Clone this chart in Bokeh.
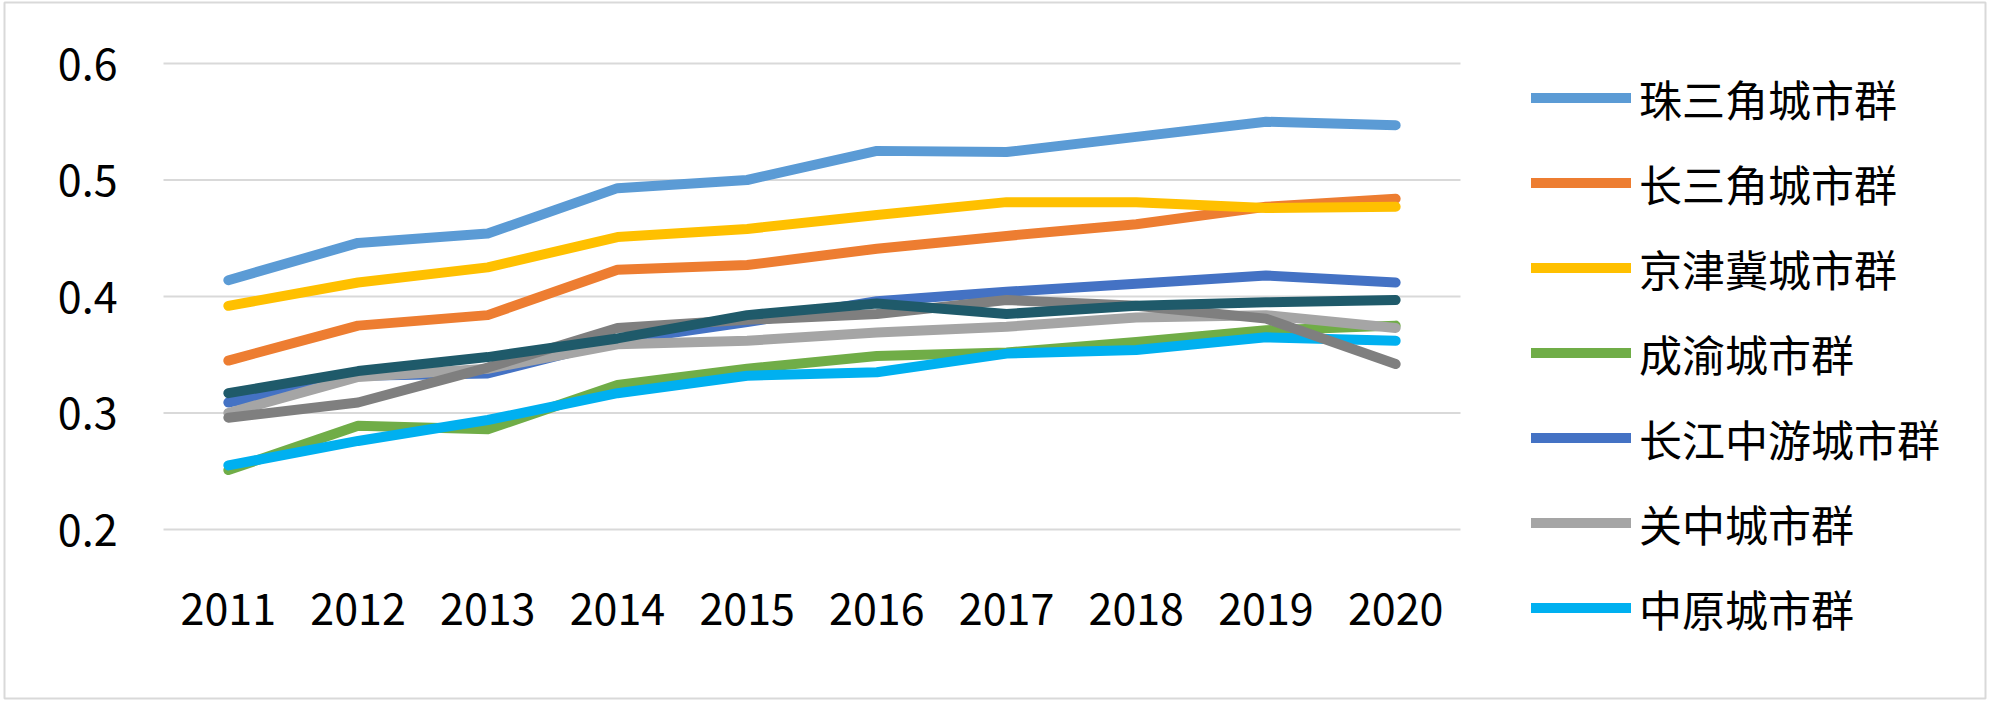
from bokeh.plotting import figure
from bokeh.models import Range1d, FixedTicker, Legend, LegendItem
from bokeh.embed import file_html
from bokeh.resources import INLINE

years = ["2011", "2012", "2013", "2014", "2015", "2016", "2017", "2018", "2019", "2020"]

zhusanjiao   = [0.414, 0.446, 0.454, 0.493, 0.500, 0.525, 0.524, 0.537, 0.550, 0.547]
changsanjiao = [0.345, 0.375, 0.384, 0.423, 0.427, 0.441, 0.452, 0.462, 0.477, 0.484]
jingjinji    = [0.392, 0.412, 0.425, 0.451, 0.458, 0.470, 0.481, 0.481, 0.476, 0.477]
chengyu      = [0.251, 0.289, 0.286, 0.324, 0.338, 0.349, 0.352, 0.361, 0.371, 0.375]
changjiang   = [0.309, 0.332, 0.334, 0.362, 0.378, 0.396, 0.404, 0.411, 0.418, 0.412]
guanzhong    = [0.300, 0.331, 0.338, 0.359, 0.362, 0.369, 0.374, 0.382, 0.384, 0.373]
zhongyuan    = [0.255, 0.276, 0.294, 0.317, 0.332, 0.335, 0.351, 0.354, 0.365, 0.362]
series8      = [0.296, 0.309, 0.339, 0.373, 0.380, 0.385, 0.397, 0.392, 0.381, 0.342]
series9      = [0.317, 0.336, 0.348, 0.364, 0.384, 0.394, 0.385, 0.392, 0.395, 0.397]

names = ["珠三角城市群", "长三角城市群", "京津冀城市群", "成渝城市群", "长江中游城市群", "关中城市群", "中原城市群", None, None]
values = [zhusanjiao, changsanjiao, jingjinji, chengyu, changjiang, guanzhong, zhongyuan, series8, series9]
colors = ["#5B9BD5", "#ED7D31", "#FFC000", "#70AD47", "#4472C4", "#A5A5A5", "#00B0F0", "#7F7F7F", "#1F5A6A"]

yticks = [0.2, 0.3, 0.4, 0.5, 0.6]
FONT = "Noto Sans CJK SC"

# layout (pixels): the frame is the bordered chart box
W, H = 1990, 702
FL, FT, FR, FB = 4, 2, 1985, 698      # frame edges = outer border
PL, PR = 163, 1460                     # category area left/right
Y0_PX, Y1_PX = 529, 63                 # pixel rows of 0.2 and 0.6

n = len(years)
idx = list(range(n))
cw = (PR - PL) / n
x_start = -0.5 - (PL - FL) / cw
x_end = -0.5 + (FR - PL) / cw
ppu = (Y0_PX - Y1_PX) / (yticks[-1] - yticks[0])
y_start = yticks[0] - (FB - Y0_PX) / ppu
y_end = yticks[-1] + (Y1_PX - FT) / ppu

p = figure(width=W, height=H, output_backend="svg", toolbar_location=None,
           x_range=Range1d(x_start, x_end), y_range=Range1d(y_start, y_end),
           min_border_left=FL, min_border_right=W - FR, min_border_top=FT, min_border_bottom=H - FB)
p.outline_line_color = "#D9D9D9"
p.outline_line_width = 2
p.background_fill_color = "white"
p.border_fill_color = "white"
p.xgrid.grid_line_color = None
p.ygrid.grid_line_color = None

# horizontal gridlines across the category area only
p.segment(x0=[-0.5] * len(yticks), x1=[n - 0.5] * len(yticks), y0=yticks, y1=yticks,
          line_color="#D9D9D9", line_width=2)

p.yaxis.ticker = FixedTicker(ticks=yticks)
p.yaxis.major_label_overrides = {t: f"{t:.1f}" for t in yticks}
p.yaxis.fixed_location = -0.5
p.xaxis.ticker = FixedTicker(ticks=idx)
p.xaxis.major_label_overrides = {i: y for i, y in zip(idx, years)}
p.xaxis.fixed_location = yticks[0]
for ax in (p.xaxis, p.yaxis):
    ax.axis_line_color = None
    ax.major_tick_line_color = None
    ax.minor_tick_line_color = None
    ax.major_label_text_font = FONT
    ax.major_label_text_font_size = "43px"
    ax.major_label_text_color = "black"
p.yaxis.major_label_standoff = 40
p.xaxis.major_label_standoff = 57

items = []
for name, vals, col in zip(names, values, colors):
    r = p.line(idx, vals, line_color=col, line_width=10, line_cap="round", line_join="round")
    if name is not None:
        items.append(LegendItem(label=name, renderers=[r]))

legend = Legend(items=items, location=(1531 - FL, FB - 650), padding=0, margin=0, spacing=0,
                glyph_width=100, glyph_height=85, label_height=85, label_standoff=8,
                label_text_font=FONT, label_text_font_size="43px", label_text_color="black",
                label_text_baseline="middle",
                background_fill_alpha=0, border_line_color=None)
p.add_layout(legend, "center")

open("out.html", "w").write(file_html(p, INLINE))
